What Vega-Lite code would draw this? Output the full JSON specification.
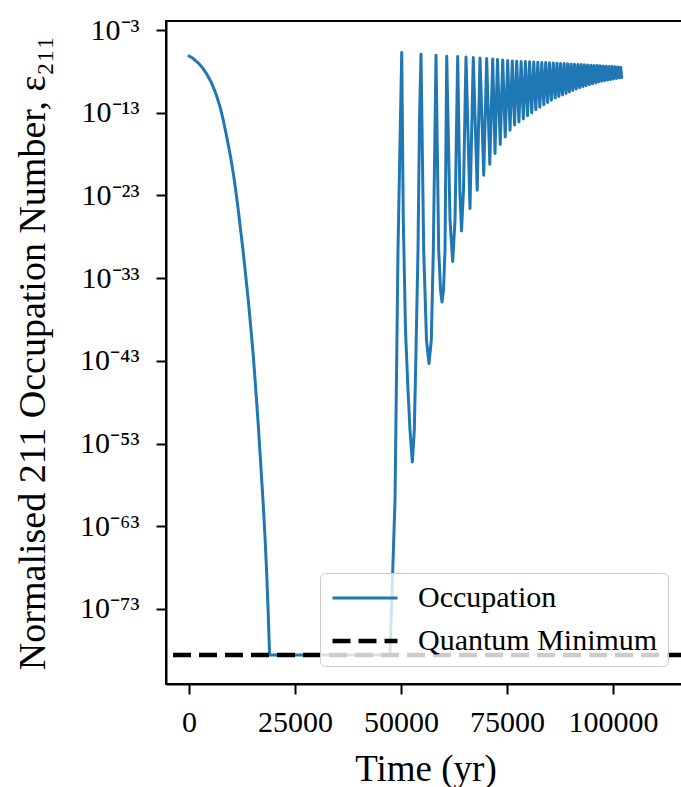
{
  "$schema": "https://vega.github.io/schema/vega-lite/v6.json",
  "width": 519,
  "height": 663,
  "autosize": {"type": "none"},
  "padding": {"left": 166, "top": 21, "right": -4, "bottom": 103},
  "config": {
    "font": "Liberation Serif",
    "view": {"stroke": "black", "strokeWidth": 2},
    "axis": {
      "domainColor": "black", "domainWidth": 2, "tickColor": "black", "tickWidth": 2, "tickSize": 10,
      "labelFont": "Liberation Serif", "labelFontSize": 30, "labelColor": "black",
      "titleFont": "Liberation Serif", "titleFontWeight": "normal", "titleColor": "black",
      "grid": false
    },
    "legend": {
      "orient": "none", "legendX": 154, "legendY": 552,
      "labelFont": "Liberation Serif", "labelFontSize": 30, "labelColor": "black", "labelLimit": 0,
      "symbolType": "stroke", "symbolSize": 4225,
      "clipHeight": 30, "rowPadding": 13, "padding": 10, "labelOffset": 18,
      "fillColor": "rgba(255,255,255,0.8)", "strokeColor": "#cccccc", "cornerRadius": 5
    }
  },
  "layer": [
    {
      "data": {"values": [
        {"t": 0, "n": 7.19e-7, "series": "Occupation"},
        {"t": 873, "n": 4.01e-7, "series": "Occupation"},
        {"t": 1509, "n": 2.06e-7, "series": "Occupation"},
        {"t": 2252, "n": 9.42e-8, "series": "Occupation"},
        {"t": 2995, "n": 3.66e-8, "series": "Occupation"},
        {"t": 4175, "n": 4.92e-9, "series": "Occupation"},
        {"t": 5354, "n": 3.6e-10, "series": "Occupation"},
        {"t": 6333, "n": 2.07e-11, "series": "Occupation"},
        {"t": 7311, "n": 5.33e-13, "series": "Occupation"},
        {"t": 8101, "n": 1.15e-14, "series": "Occupation"},
        {"t": 8891, "n": 1.26e-16, "series": "Occupation"},
        {"t": 9670, "n": 1.08e-18, "series": "Occupation"},
        {"t": 10448, "n": 4.73e-21, "series": "Occupation"},
        {"t": 11038, "n": 3.43e-23, "series": "Occupation"},
        {"t": 11627, "n": 1.51e-25, "series": "Occupation"},
        {"t": 12217, "n": 4.24e-28, "series": "Occupation"},
        {"t": 12807, "n": 1.09e-30, "series": "Occupation"},
        {"t": 13396, "n": 1.53e-33, "series": "Occupation"},
        {"t": 13986, "n": 1.98e-36, "series": "Occupation"},
        {"t": 14576, "n": 1.02e-39, "series": "Occupation"},
        {"t": 15165, "n": 4.44e-43, "series": "Occupation"},
        {"t": 15755, "n": 2.91e-47, "series": "Occupation"},
        {"t": 16344, "n": 1.53e-51, "series": "Occupation"},
        {"t": 16934, "n": 2.42e-56, "series": "Occupation"},
        {"t": 17524, "n": 3.25e-61, "series": "Occupation"},
        {"t": 17925, "n": 5.06e-65, "series": "Occupation"},
        {"t": 18325, "n": 1.95e-69, "series": "Occupation"},
        {"t": 18668, "n": 4.33e-74, "series": "Occupation"},
        {"t": 19010, "n": 2.75e-79, "series": "Occupation"},
        {"t": 47400, "n": 2.75e-79, "series": "Occupation"},
        {"t": 48590, "n": 1.51e-60, "series": "Occupation"},
        {"t": 49290, "n": 2.51e-30, "series": "Occupation"},
        {"t": 50170, "n": 1.9e-6, "series": "Occupation"},
        {"t": 50540, "n": 1.07e-26, "series": "Occupation"},
        {"t": 51060, "n": 5.37e-40, "series": "Occupation"},
        {"t": 51650, "n": 2.99e-47, "series": "Occupation"},
        {"t": 52120, "n": 4.37e-52, "series": "Occupation"},
        {"t": 52670, "n": 5.9e-56, "series": "Occupation"},
        {"t": 53140, "n": 4.37e-52, "series": "Occupation"},
        {"t": 53540, "n": 2.05e-42, "series": "Occupation"},
        {"t": 54010, "n": 2.51e-30, "series": "Occupation"},
        {"t": 54360, "n": 1.32e-14, "series": "Occupation"},
        {"t": 54720, "n": 1.19e-6, "series": "Occupation"},
        {"t": 55350, "n": 2.51e-30, "series": "Occupation"},
        {"t": 56010, "n": 3.32e-41, "series": "Occupation"},
        {"t": 56600, "n": 4.79e-44, "series": "Occupation"},
        {"t": 57150, "n": 3.32e-41, "series": "Occupation"},
        {"t": 57620, "n": 2.51e-30, "series": "Occupation"},
        {"t": 58260, "n": 8.98e-7, "series": "Occupation"},
        {"t": 58890, "n": 2.51e-30, "series": "Occupation"},
        {"t": 59320, "n": 3.68e-35, "series": "Occupation"},
        {"t": 59670, "n": 1.3e-36, "series": "Occupation"},
        {"t": 60020, "n": 3.68e-35, "series": "Occupation"},
        {"t": 60380, "n": 2.51e-30, "series": "Occupation"},
        {"t": 60780, "n": 6.79e-7, "series": "Occupation"},
        {"t": 61560, "n": 1.07e-26, "series": "Occupation"},
        {"t": 62190, "n": 1.03e-31, "series": "Occupation"},
        {"t": 62740, "n": 1.07e-26, "series": "Occupation"},
        {"t": 63370, "n": 6.25e-7, "series": "Occupation"},
        {"t": 63870, "n": 4.53e-23, "series": "Occupation"},
        {"t": 64270, "n": 5.0e-28, "series": "Occupation"},
        {"t": 64740, "n": 4.53e-23, "series": "Occupation"},
        {"t": 65330, "n": 5.45e-7, "series": "Occupation"},
        {"t": 66270, "n": 2.62e-25, "series": "Occupation"},
        {"t": 67050, "n": 4.73e-7, "series": "Occupation"},
        {"t": 67970, "n": 4.28e-23, "series": "Occupation"},
        {"t": 68630, "n": 4.12e-7, "series": "Occupation"},
        {"t": 69510, "n": 2.79e-21, "series": "Occupation"},
        {"t": 70210, "n": 3.58e-7, "series": "Occupation"},
        {"t": 70940, "n": 5.96e-20, "series": "Occupation"},
        {"t": 71630, "n": 3.12e-7, "series": "Occupation"},
        {"t": 72170, "n": 1.17e-18, "series": "Occupation"},
        {"t": 72760, "n": 2.71e-7, "series": "Occupation"},
        {"t": 73400, "n": 1.44e-17, "series": "Occupation"},
        {"t": 73990, "n": 2.36e-7, "series": "Occupation"},
        {"t": 74580, "n": 1.16e-16, "series": "Occupation"},
        {"t": 75170, "n": 2.06e-7, "series": "Occupation"},
        {"t": 75710, "n": 7.69e-16, "series": "Occupation"},
        {"t": 76250, "n": 1.79e-7, "series": "Occupation"},
        {"t": 76770, "n": 3.27e-15, "series": "Occupation"},
        {"t": 77290, "n": 1.69e-7, "series": "Occupation"},
        {"t": 77810, "n": 7.53e-15, "series": "Occupation"},
        {"t": 78330, "n": 1.6e-7, "series": "Occupation"},
        {"t": 78850, "n": 1.74e-14, "series": "Occupation"},
        {"t": 79340, "n": 1.51e-7, "series": "Occupation"},
        {"t": 79840, "n": 4.24e-14, "series": "Occupation"},
        {"t": 80330, "n": 1.43e-7, "series": "Occupation"},
        {"t": 80830, "n": 1.0e-13, "series": "Occupation"},
        {"t": 81320, "n": 1.35e-7, "series": "Occupation"},
        {"t": 81790, "n": 2.38e-13, "series": "Occupation"},
        {"t": 82270, "n": 1.28e-7, "series": "Occupation"},
        {"t": 82740, "n": 4.64e-13, "series": "Occupation"},
        {"t": 83210, "n": 1.21e-7, "series": "Occupation"},
        {"t": 83680, "n": 9.06e-13, "series": "Occupation"},
        {"t": 84130, "n": 1.15e-7, "series": "Occupation"},
        {"t": 84580, "n": 1.72e-12, "series": "Occupation"},
        {"t": 85020, "n": 1.08e-7, "series": "Occupation"},
        {"t": 85470, "n": 3.17e-12, "series": "Occupation"},
        {"t": 85920, "n": 1.02e-7, "series": "Occupation"},
        {"t": 86370, "n": 6.01e-12, "series": "Occupation"},
        {"t": 86790, "n": 9.68e-8, "series": "Occupation"},
        {"t": 87220, "n": 9.38e-12, "series": "Occupation"},
        {"t": 87640, "n": 9.16e-8, "series": "Occupation"},
        {"t": 88070, "n": 1.43e-11, "series": "Occupation"},
        {"t": 88490, "n": 8.67e-8, "series": "Occupation"},
        {"t": 88920, "n": 2.16e-11, "series": "Occupation"},
        {"t": 89320, "n": 8.2e-8, "series": "Occupation"},
        {"t": 89720, "n": 3.28e-11, "series": "Occupation"},
        {"t": 90120, "n": 7.75e-8, "series": "Occupation"},
        {"t": 90520, "n": 4.85e-11, "series": "Occupation"},
        {"t": 90920, "n": 7.33e-8, "series": "Occupation"},
        {"t": 91320, "n": 7.16e-11, "series": "Occupation"},
        {"t": 91720, "n": 6.93e-8, "series": "Occupation"},
        {"t": 92120, "n": 1.06e-10, "series": "Occupation"},
        {"t": 92500, "n": 6.56e-8, "series": "Occupation"},
        {"t": 92880, "n": 1.44e-10, "series": "Occupation"},
        {"t": 93260, "n": 6.21e-8, "series": "Occupation"},
        {"t": 93630, "n": 1.9e-10, "series": "Occupation"},
        {"t": 94010, "n": 5.86e-8, "series": "Occupation"},
        {"t": 94390, "n": 2.51e-10, "series": "Occupation"},
        {"t": 94770, "n": 5.55e-8, "series": "Occupation"},
        {"t": 95140, "n": 3.13e-10, "series": "Occupation"},
        {"t": 95520, "n": 5.25e-8, "series": "Occupation"},
        {"t": 95900, "n": 4.02e-10, "series": "Occupation"},
        {"t": 96250, "n": 4.97e-8, "series": "Occupation"},
        {"t": 96600, "n": 5.31e-10, "series": "Occupation"},
        {"t": 96960, "n": 4.7e-8, "series": "Occupation"},
        {"t": 97310, "n": 6.46e-10, "series": "Occupation"},
        {"t": 97670, "n": 4.45e-8, "series": "Occupation"},
        {"t": 98020, "n": 7.62e-10, "series": "Occupation"},
        {"t": 98370, "n": 4.2e-8, "series": "Occupation"},
        {"t": 98730, "n": 8.77e-10, "series": "Occupation"},
        {"t": 99080, "n": 3.97e-8, "series": "Occupation"},
        {"t": 99430, "n": 1.04e-9, "series": "Occupation"},
        {"t": 99790, "n": 3.76e-8, "series": "Occupation"},
        {"t": 100140, "n": 1.22e-9, "series": "Occupation"},
        {"t": 100470, "n": 3.56e-8, "series": "Occupation"},
        {"t": 100800, "n": 1.41e-9, "series": "Occupation"},
        {"t": 101130, "n": 3.37e-8, "series": "Occupation"},
        {"t": 101460, "n": 1.62e-9, "series": "Occupation"},
        {"t": 101790, "n": 3.18e-8, "series": "Occupation"},
        {"t": 102080, "n": 1.81e-9, "series": "Occupation"}
      ]},
      "mark": {"type": "line", "strokeJoin": "round", "strokeCap": "round"},
      "encoding": {
        "x": {
          "field": "t", "type": "quantitative",
          "scale": {"domain": [-5425, 116980], "nice": false, "zero": false},
          "axis": {"values": [0, 25000, 50000, 75000, 100000], "format": "d", "title": "Time (yr)", "titleFontSize": 37, "labelPadding": 13, "titlePadding": 14, "labelFlush": false}
        },
        "y": {
          "field": "n", "type": "quantitative",
          "scale": {"type": "log", "domain": [8.51e-83, 0.01225], "nice": false},
          "axis": {
            "values": [0.001, 1e-13, 1e-23, 1e-33, 1e-43, 1e-53, 1e-63, 1e-73],
            "labelExpr": "'10' + {'-3':'⁻³','-13':'⁻¹³','-23':'⁻²³','-33':'⁻³³','-43':'⁻⁴³','-53':'⁻⁵³','-63':'⁻⁶³','-73':'⁻⁷³'}['' + round(log(datum.value)/LN10)]",
            "title": "Normalised 211 Occupation Number, ε₂₁₁",
            "titleFontSize": 38,
            "labelPadding": 17, "titlePadding": 27
          }
        },
        "color": {
          "field": "series", "type": "nominal",
          "scale": {"domain": ["Occupation", "Quantum Minimum"], "range": ["#1f77b4", "#000000"]},
          "legend": {"title": null}
        },
        "strokeDash": {
          "field": "series", "type": "nominal",
          "scale": {"domain": ["Occupation", "Quantum Minimum"], "range": [[1, 0], [18, 8]]},
          "legend": {"title": null}
        },
        "strokeWidth": {
          "field": "series", "type": "nominal",
          "scale": {"domain": ["Occupation", "Quantum Minimum"], "range": [3, 4.5]},
          "legend": {"title": null}
        }
      }
    },
    {
      "data": {"values": [{"series": "Quantum Minimum", "n": 2.75e-79}]},
      "mark": {"type": "rule"},
      "encoding": {
        "y": {"field": "n", "type": "quantitative"},
        "color": {"field": "series", "type": "nominal"},
        "strokeDash": {"field": "series", "type": "nominal"},
        "strokeWidth": {"field": "series", "type": "nominal"}
      }
    }
  ]
}
